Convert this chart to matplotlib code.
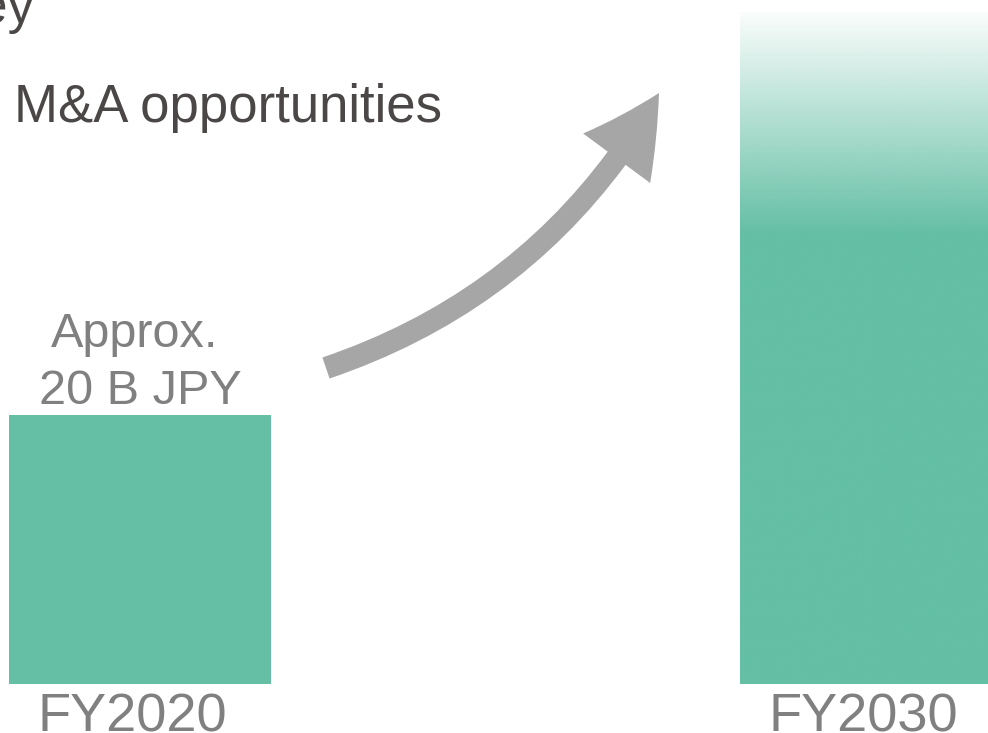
import numpy as np
import matplotlib.pyplot as plt
from matplotlib.patches import FancyArrowPatch
from matplotlib.colors import to_rgb

# Veriler
categories = ["FY2020", "FY2030"]
values = [20, 50]          # FY2030: açık uçlu (gradyan)
fade_from = 33.5           # FY2030 bu seviyeden yukarı soluklaşıyor
value_label = ["Approx.", "20 B JPY"]
title_text = "M&A opportunities"

bar_color = "#64bfa4"
grey_text = "#808080"
dark_text = "#4b4747"
arrow_color = "#a6a6a6"

plt.rcParams['font.family'] = ['Liberation Sans', 'DejaVu Sans']

fig = plt.figure(figsize=(9.88, 7.33), dpi=100)
ax = fig.add_axes([0, 0, 1, 1])
ax.axis('off')

x = np.arange(len(categories))
width = 0.3584

# FY2020 düz çubuk
ax.bar(x[:1], values[:1], width=width, color=bar_color, linewidth=0)

# FY2030 gradyanlı çubuk
clip = ax.bar([x[1]], [values[1]], width=width, color='none', linewidth=0)[0]
h = 400
ys = np.linspace(0, values[1], h)
alpha = np.clip(0.03 + 0.97 * (values[1] - ys) / (values[1] - fade_from), 0, 1)
alpha = np.where(ys <= fade_from, 1.0, alpha)
rgba = np.zeros((h, 1, 4))
rgba[:, 0, :3] = to_rgb(bar_color)
rgba[:, 0, 3] = alpha
im = ax.imshow(rgba, origin='lower', aspect='auto',
               extent=[x[1] - width / 2, x[1] + width / 2, 0, values[1]],
               interpolation='bilinear')
im.set_clip_path(clip)
ax.set_xlim(-0.1915, 1.160)
ax.set_ylim(-3.643, 50.86)

# Değer etiketi
ax.annotate(value_label[1], xy=(x[0], values[0]), xytext=(0, 8),
            textcoords='offset points', ha='center', va='baseline',
            fontsize=35, color=grey_text)
ax.annotate(value_label[0], xy=(x[0], values[0]), xytext=(-4, 49),
            textcoords='offset points', ha='center', va='baseline',
            fontsize=35, color=grey_text)

# Kategori etiketleri
for xi, cat in zip(x, categories):
    ax.text(xi - 0.01, -3.5, cat, ha='center', va='baseline',
            fontsize=39, color=grey_text)

# Başlık metinleri
fig.text(14, 733 - 122, title_text, transform=None, fontsize=38,
         color=dark_text, ha='left', va='baseline')
fig.text(34, 733 - 23, "key", transform=None, fontsize=38,
         color=dark_text, ha='right', va='baseline')

# Kavisli ok
arrow = FancyArrowPatch((326, 733 - 368), (659, 733 - 93),
                        transform=None,
                        connectionstyle="arc3,rad=0.19",
                        arrowstyle="simple,head_length=56,head_width=60,tail_width=16",
                        mutation_scale=1, shrinkA=0, shrinkB=0,
                        color=arrow_color, linewidth=0)
fig.patches.append(arrow)

fig.savefig("out.png", dpi=100)
